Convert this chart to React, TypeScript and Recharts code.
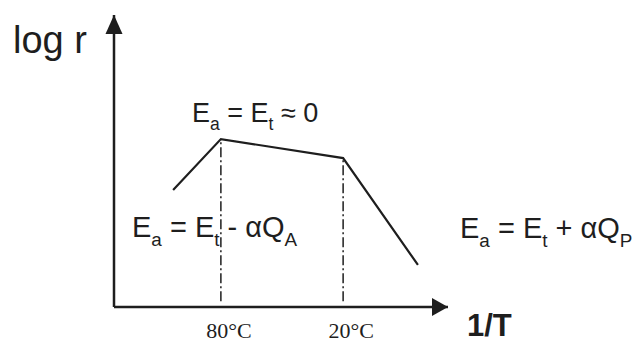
import React from 'react';
import {
  LineChart,
  Line,
  XAxis,
  YAxis,
  ReferenceLine,
  ReferenceDot,
  Customized,
} from 'recharts';

// 1/T position (arbitrary units) and log r of the curve's break points
const invT = [17.7, 32.0, 68.6, 91.0];
const logR = [40.1, 57.5, 51.0, 14.4];
// temperatures marked at the two breaks
const breakX = [32.0, 68.6];
const breakY = [57.5, 51.0];
const tempLabels = ['80°C', '20°C'];

const data = invT.map((x, i) => ({ x, y: logR[i] }));

const INK = '#1e1e1e';
const SANS = '"Liberation Sans", Arial, sans-serif';
const SERIF = '"Liberation Serif", "Times New Roman", serif';

const ArrowRight = (props: any) => {
  const { cx, cy } = props;
  return <polygon points={`${cx},${cy} ${cx - 16},${cy - 9} ${cx - 16},${cy + 9}`} fill={INK} />;
};

const ArrowUp = (props: any) => {
  const { cx, cy } = props;
  return <polygon points={`${cx},${cy} ${cx - 8.5},${cy + 19} ${cx + 8.5},${cy + 19}`} fill={INK} />;
};

const TempTick = (props: any) => {
  const { x, y, payload } = props;
  return (
    <text x={x + 8} y={y + 29} textAnchor="middle" fontFamily={SERIF} fontSize={22} fill={INK}>
      {tempLabels[breakX.indexOf(payload.value)]}
    </text>
  );
};

const Eq = ({ x, y, size, tail, sub }: { x: number; y: number; size: number; tail: string; sub?: string }) => {
  const s = size * 0.65;
  const d = size * 0.3;
  return (
    <text x={x} y={y} fontFamily={SANS} fontSize={size} fill={INK}>
      <tspan>E</tspan>
      <tspan dy={d} fontSize={s}>a</tspan>
      <tspan dy={-d}> = E</tspan>
      <tspan dy={d} fontSize={s}>t</tspan>
      <tspan dy={-d}>{tail}</tspan>
      {sub && <tspan dy={d} fontSize={s}>{sub}</tspan>}
    </text>
  );
};

const Annotations = () => (
  <g>
    <text x={13} y={53} fontFamily={SANS} fontSize={38} fill={INK}>log r</text>
    <text x={467} y={336} fontFamily={SANS} fontSize={31} fontWeight="bold" fill={INK}>1/T</text>
    <Eq x={192} y={122} size={27} tail=" ≈ 0" />
    <Eq x={132} y={237} size={29} tail=" - αQ" sub="A" />
    <Eq x={460} y={238} size={29} tail=" + αQ" sub="P" />
  </g>
);

export default function App() {
  return (
    <div style={{ position: 'absolute', left: 0, top: 0, background: '#fff' }}>
      <LineChart
        width={635}
        height={342}
        data={data}
        margin={{ top: 15, right: 187, bottom: 5, left: 114 }}
      >
        <XAxis
          type="number"
          dataKey="x"
          domain={[0, 100]}
          ticks={breakX}
          tickLine={false}
          tickSize={0}
          height={30}
          axisLine={{ stroke: INK, strokeWidth: 2.5 }}
          tick={<TempTick />}
        />
        <YAxis type="number" domain={[0, 100]} hide />
        <ReferenceLine x={0} stroke={INK} strokeWidth={2.5} ifOverflow="visible" />
        {breakX.map((bx, i) => (
          <ReferenceLine
            key={bx}
            segment={[{ x: bx, y: 2 }, { x: bx, y: breakY[i] }]}
            stroke={INK}
            strokeWidth={1.5}
            strokeDasharray="10 3 2 3"
            ifOverflow="visible"
          />
        ))}
        <Line
          type="linear"
          dataKey="y"
          stroke={INK}
          strokeWidth={2.2}
          dot={false}
          isAnimationActive={false}
        />
        <ReferenceDot x={100} y={0} r={0} shape={ArrowRight} ifOverflow="visible" />
        <ReferenceDot x={0} y={100} r={0} shape={ArrowUp} ifOverflow="visible" />
        <Customized component={Annotations} />
      </LineChart>
    </div>
  );
}
